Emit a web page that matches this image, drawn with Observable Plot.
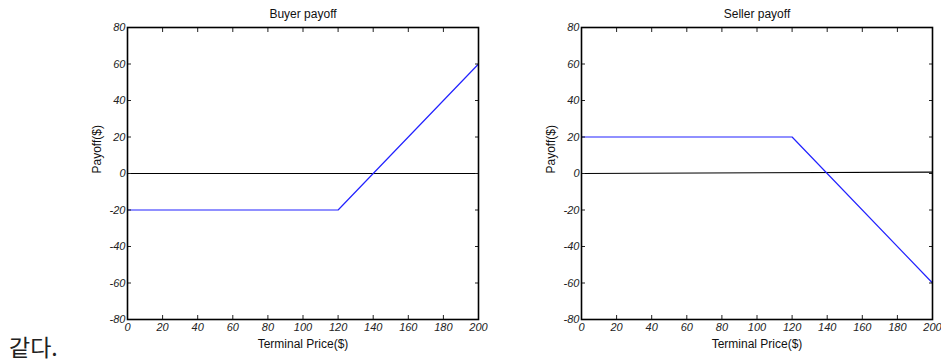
<!DOCTYPE html>
<html><head><meta charset="utf-8">
<script src="https://cdn.jsdelivr.net/npm/d3@7"></script>
<script src="https://cdn.jsdelivr.net/npm/@observablehq/plot@0.6"></script>
<style>
body{margin:0;background:#fff;width:941px;height:363px;overflow:hidden;position:relative;font-family:Arial,"Liberation Sans",sans-serif;}
#left{position:absolute;left:0;top:0;}
#right{position:absolute;left:490px;top:0;}
#note{position:absolute;left:9px;top:334px;font-family:"Noto Sans CJK KR";font-size:23px;color:#222;line-height:24px;}
g[aria-label$="tick label"] text{font-style:italic;}
</style></head><body>
<div id="left"></div><div id="right"></div><div id="note">같다.</div>
<script>
const prices = [0, 120, 200];
const buyerPayoff = [-20, -20, 60];
const sellerPayoff = [20, 20, -60];
const zeroX = [0, 200];
const buyerZero = [0, 0];
const sellerZero = [0, 0.8];
const xTicks = [0,20,40,60,80,100,120,140,160,180,200];
const yTicks = [-80,-60,-40,-20,0,20,40,60,80];

function chart(title, payoff, zero, width, ml, mr) {
  const pts = prices.map((p,i)=>({x:p,y:payoff[i]}));
  const zl = zeroX.map((p,i)=>({x:p,y:zero[i]}));
  return Plot.plot({
    width, height:363, marginLeft:ml, marginRight:mr, marginTop:27, marginBottom:44,
    style:{fontFamily:'Arial,"Liberation Sans",sans-serif', fontSize:"11px", color:"#222", background:"#fff"},
    x:{domain:[0,200]}, y:{domain:[-80,80]},
    marks:[
      Plot.line(zl,{x:"x",y:"y",stroke:"black",strokeWidth:1.2}),
      Plot.line(pts,{x:"x",y:"y",stroke:"#2222ff",strokeWidth:1.2}),
      Plot.axisX({ticks:xTicks, tickSize:-4, tickPadding:8, fontStyle:"italic", label:null, tickFormat:d=>String(d)}),
      Plot.axisX({anchor:"top", ticks:xTicks, tickSize:-4, tickFormat:()=>"", label:null}),
      Plot.axisY({ticks:yTicks, tickSize:-4, tickPadding:6, fontStyle:"italic", label:null, tickFormat:d=>String(d)}),
      Plot.axisY({anchor:"right", ticks:yTicks, tickSize:-4, tickFormat:()=>"", label:null}),
      Plot.frame({stroke:"black", strokeWidth:1.6}),
      Plot.text([title],{frameAnchor:"top", dy:-18, text:d=>d, fontSize:12, fill:"#111"}),
      Plot.text(["Terminal Price($)"],{frameAnchor:"bottom", dy:28, text:d=>d, fontSize:12, fill:"#111"}),
      Plot.text(["Payoff($)"],{frameAnchor:"left", dx:-30, rotate:-90, text:d=>d, fontSize:12, fill:"#111"})
    ]
  });
}
document.getElementById("left").append(chart("Buyer payoff", buyerPayoff, buyerZero, 490, 127, 12));
document.getElementById("right").append(chart("Seller payoff", sellerPayoff, sellerZero, 451, 91, 9));
</script></body></html>
